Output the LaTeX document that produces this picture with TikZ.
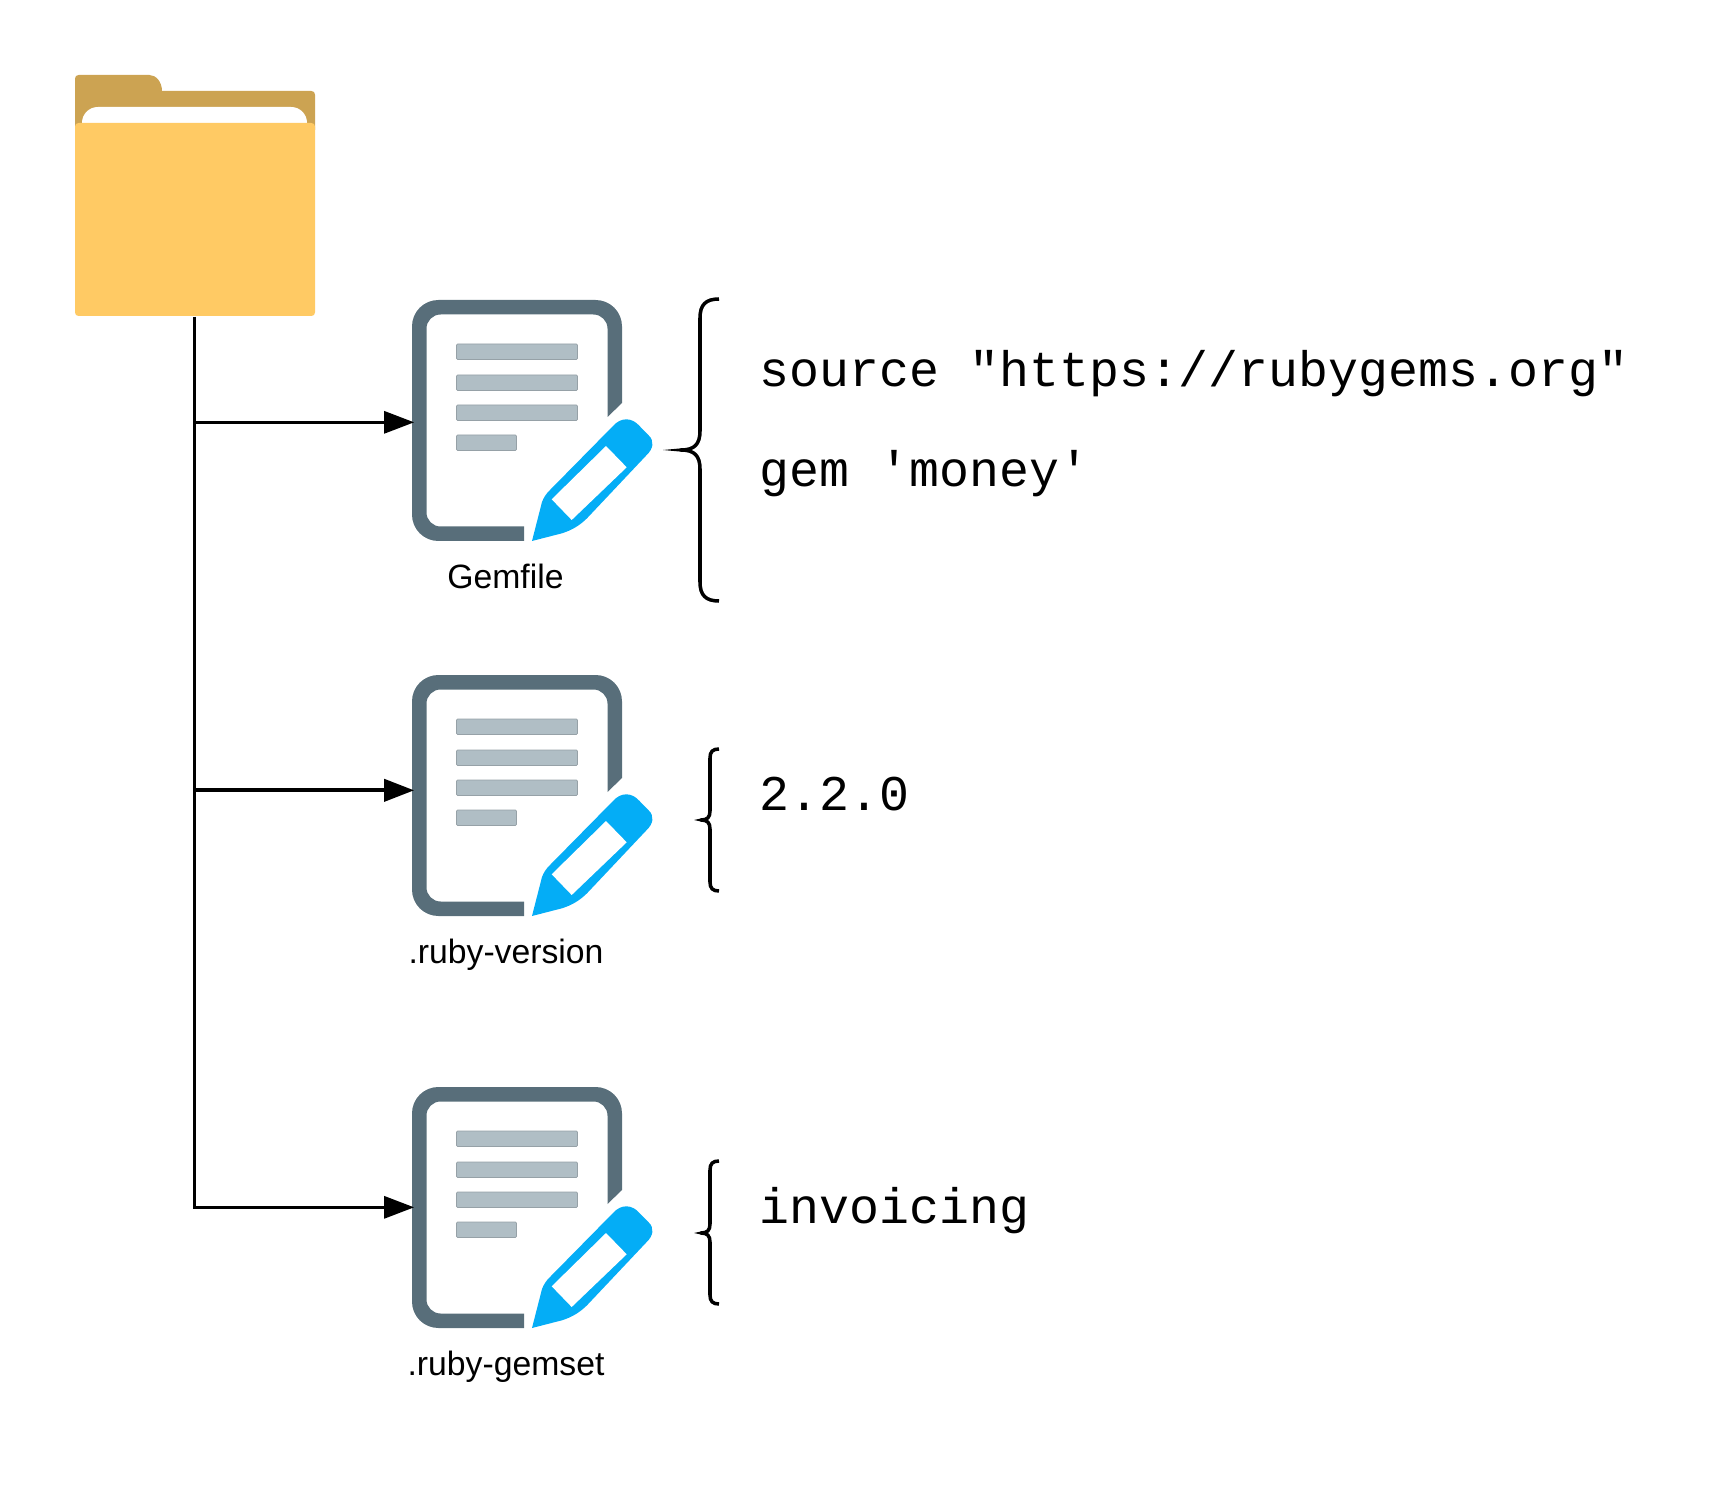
\documentclass[tikz,border=0pt]{standalone}
\usepackage{fontspec}
\setmainfont{Liberation Sans}
\setmonofont{Liberation Mono}
\usetikzlibrary{arrows.meta}

\definecolor{foldertab}{HTML}{CCA352}
\definecolor{folderfront}{HTML}{FFCA64}
\definecolor{docframe}{HTML}{586E7A}
\definecolor{docbar}{HTML}{B0BEC5}
\definecolor{pencilblue}{HTML}{04ADF6}

\tikzset{
  docbox/.style={anchor=north west, minimum width=4.2cm, minimum height=4.88cm, inner sep=0pt},
  folderbox/.style={anchor=north west, minimum width=4.76cm, minimum height=4.82cm, inner sep=0pt},
  filelabel/.style={anchor=base, font=\fontsize{19.2}{23}\selectfont, inner sep=0pt},
  codetext/.style={anchor=base west, font=\ttfamily\fontsize{28.4}{34}\selectfont, inner sep=0pt},
  linkline/.style={line width=1.7pt, shorten >=-1.2pt, -{Triangle[length=17pt, width=12.5pt]}},
  bracepath/.style={line width=2pt, line join=round},
  pics/docicon/.style={code={
    % Page outline, open where the pencil sits
    \fill[docframe] (112,241) [rounded corners=15pt] -- (0,241) -- (0,0) -- (210,0)
      [sharp corners] -- (210,103) -- (195.5,117)
      [rounded corners=8pt] -- (195.5,14.5) -- (14.5,14.5) -- (14.5,226.5)
      [sharp corners] -- (112,226.5) -- cycle;
    % Text bars
    \foreach \ytop/\xend in {44/166, 75/166, 105/166, 135/105} {
      \fill[docbar, draw=docbar!85!black, line width=0.4pt, rounded corners=0.6pt]
        (44.5,\ytop) rectangle (\xend-0.5,\ytop+15.5);
    }
    % Pencil
    \fill[pencilblue] (120,241) -- (130,202) .. controls (132,197) and (134,194) .. (138,190)
      -- (201,126) .. controls (209,117) and (220,117) .. (228,126.5)
      -- (236.3,135) .. controls (243,141) and (241,149) .. (234.7,155)
      -- (175,218.3) .. controls (167,226) and (160,230) .. (150,233.3) -- cycle;
    \fill[white] (139.7,199.3) -- (194,146) -- (214.7,167.3) -- (159.7,220) -- cycle;
  }}
}

% tip x, bar x, end x, top y, middle y, bottom y
\newcommand{\bracemark}[6]{
  \pgfmathsetmacro{\bendr}{#3-#2}
  \draw[bracepath] (#3,#4) .. controls (#2+0.3*\bendr,#4) and (#2,#4+0.3*\bendr) .. (#2,#4+\bendr)
    -- (#2,#5-\bendr) .. controls (#2,#5-0.3*\bendr) and (#2-0.3*\bendr,#5) .. (#2-\bendr,#5)
    .. controls (#2-0.3*\bendr,#5) and (#2,#5+0.3*\bendr) .. (#2,#5+\bendr)
    -- (#2,#6-\bendr) .. controls (#2,#6-0.3*\bendr) and (#2+0.3*\bendr,#6) .. (#3,#6);
  \fill (#1,#5) -- (#2-\bendr+1,#5-1.75) -- (#2-\bendr+1,#5+1.75) -- cycle;
}

\begin{document}
\begin{tikzpicture}[x=0.02cm, y=-0.02cm]
  \useasboundingbox (0,0) rectangle (1725,1500);

  % Folder
  \node[folderbox] (project) at (75,75) {};
  \fill[foldertab] (75,130) [rounded corners=2pt] -- (75,75) -- (146,75)
    [sharp corners] .. controls (156,75) and (162,82) .. (162,91)
    [rounded corners=2pt] -- (315,91) [sharp corners] -- (315,130) -- cycle;
  \fill[white] (82,124) [rounded corners=9pt] -- (82,107) -- (307,107) [sharp corners] -- (307,124) -- cycle;
  \fill[folderfront, rounded corners=2pt] (75,123) rectangle (315,316);

  % File icons
  \node[docbox] (gemfile) at (412,300) {};
  \pic at (gemfile.north west) {docicon};
  \node[docbox] (rubyversion) at (412,675) {};
  \pic at (rubyversion.north west) {docicon};
  \node[docbox] (rubygemset) at (412,1087) {};
  \pic at (rubygemset.north west) {docicon};

  % File names
  \node[filelabel] (gemfilename) at (505.5,588) {Gemfile};
  \node[filelabel] (versionname) at (506,963) {.ruby-version};
  \node[filelabel] (gemsetname) at (506,1375.5) {.ruby-gemset};

  % Links from the folder
  \draw[linkline] (project.south) |- ([yshift=0.04cm]rubygemset.west);
  \draw[linkline] (project.south |- gemfile.west) -- (gemfile.west);
  \draw[linkline, line width=2.2pt] ([yshift=0.14cm]project.south |- rubyversion.west) -- ([yshift=0.14cm]rubyversion.west);

  % Braces
  \bracemark{663}{700}{719}{299}{450}{601}
  \bracemark{694}{710}{719}{749}{820}{891}
  \bracemark{694}{710}{719}{1161}{1233}{1304}

  % File contents
  \node[codetext] (sourceline) at (759.5,387) {source "https://rubygems.org"};
  \node[codetext] (gemline) at (759.5,487) {gem 'money'};
  \node[codetext] (versionline) at (759.5,810) {2.2.0};
  \node[codetext] (gemsetline) at (759.5,1223) {invoicing};
\end{tikzpicture}
\end{document}
